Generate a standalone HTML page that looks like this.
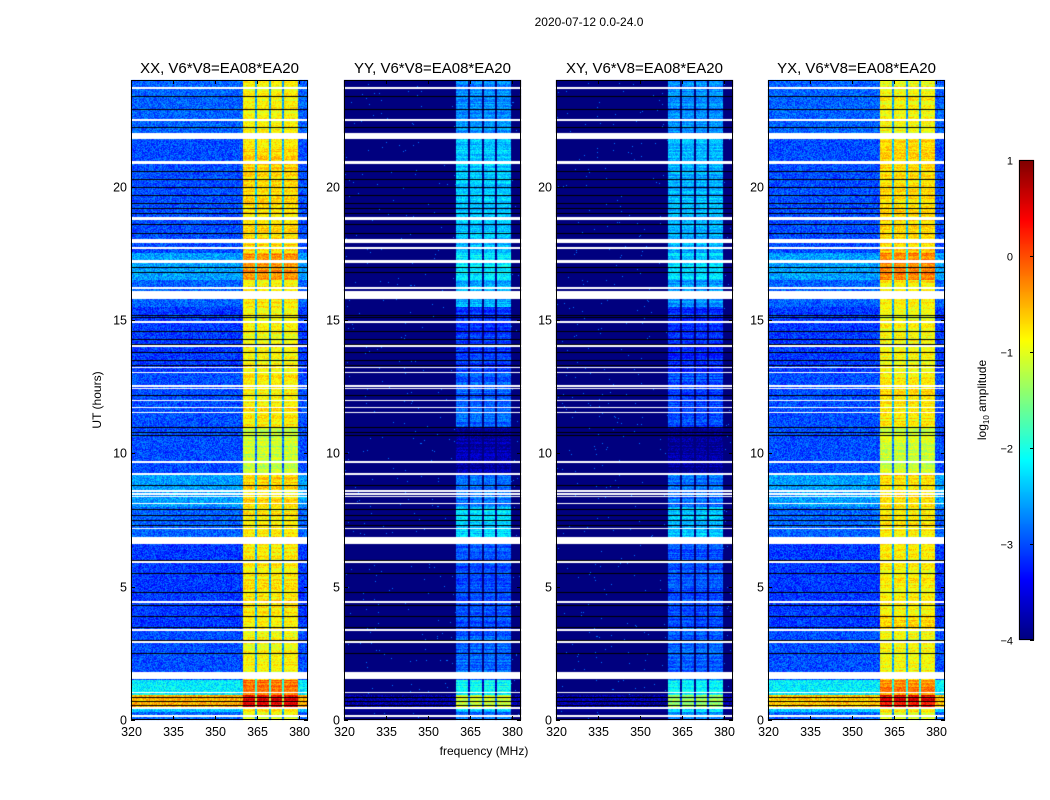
<!DOCTYPE html>
<html><head><meta charset="utf-8">
<style>
body{margin:0;background:#fff;width:1050px;height:800px;overflow:hidden;position:relative;font-family:"Liberation Sans",sans-serif}
canvas{position:absolute}
svg{position:absolute;left:0;top:0}
</style></head>
<body>
<canvas id="cv" width="1050" height="800"></canvas>
<svg id="sv" width="1050" height="800"></svg>
<script>
// ---- data ----
const panelTitles = ["XX, V6*V8=EA08*EA20","YY, V6*V8=EA08*EA20","XY, V6*V8=EA08*EA20","YX, V6*V8=EA08*EA20"];
const xTicks = [320,335,350,365,380];
const yTicks = [0,5,10,15,20];
const cbTicks = [1,0,-1,-2,-3,-4];
const segHours = [0,0.3,0.45,0.95,1.5,2.0,3.5,6.6,8.0,9.2,11.0,13.0,15.5,16.5,17.5,21.9,24];
const xxBg   = [-2.9,-2.4,-0.5,-2.2,-3.0,-3.0,-3.1,-2.9,-2.6,-3.0,-3.0,-3.1,-2.9,-2.6,-3.0,-2.9];
const xxBand = [-1.0,-0.8,0.5,-0.2,-0.9,-0.9,-0.8,-0.8,-0.7,-1.2,-0.8,-0.9,-0.8,-0.3,-0.7,-0.9];
const yyBg   = [-4,-3.9,-3.8,-4,-4,-4,-4,-4,-4,-4,-4,-4,-4,-4,-4,-4];
const yyBand = [-2.8,-2.3,-1.1,-2.1,-2.9,-2.9,-3.0,-2.3,-2.8,-3.8,-2.9,-3.1,-2.5,-2.2,-2.4,-2.7];
const xyBg   = [-4,-3.9,-3.8,-4,-4,-4,-4,-4,-4,-4,-4,-4,-4,-4,-4,-4];
const xyBand = [-2.7,-2.3,-1.3,-2.2,-2.9,-2.9,-3.0,-2.4,-2.8,-3.9,-3.0,-3.2,-2.6,-2.3,-2.5,-2.7];
const yxBg   = [-2.9,-2.4,-0.6,-2.2,-3.0,-3.0,-3.1,-2.9,-2.6,-3.0,-3.0,-3.1,-2.9,-2.6,-3.0,-2.9];
const yxBand = [-1.0,-0.8,0.4,-0.3,-0.9,-0.9,-0.8,-0.8,-0.7,-1.1,-0.8,-0.9,-0.8,-0.3,-0.7,-0.9];
const bandEdges = [360,379.5];
const notchFreqs = [364.6,369.5,374.4];
const flaggedStart = [23.65,22.45,21.8,20.85,18.75,17.9,17.65,17.15,16.15,15.8,14.88,13.98,13.2,13.0,12.5,12.4,11.95,11.7,11.5,9.62,9.18,8.55,8.45,8.35,8.1,7.15,6.6,5.88,4.4,3.33,2.88,1.55,1.0,0.42,0.12];
const flaggedEnd   = [23.75,22.55,22.0,20.95,18.85,18.05,17.72,17.25,16.22,16.1,14.95,14.05,13.25,13.05,12.55,12.45,12.0,11.75,11.55,9.7,9.25,8.62,8.5,8.4,8.15,7.2,6.85,5.95,4.47,3.4,2.95,1.8,1.05,0.48,0.2];
const blackHours = [23.4,22.9,22.25,20.6,20.3,20.0,19.7,19.4,19.2,19.0,18.6,18.25,17.0,16.8,15.2,15.1,14.6,14.3,14.1,13.8,13.5,13.3,12.2,11.0,10.8,10.7,8.8,7.9,7.7,7.5,7.3,6.0,5.5,4.8,4.3,3.9,3.5,3.0,2.5,0.85,0.7,0.55];
const panelBg = [xxBg,yyBg,xyBg,yxBg];
const panelBand = [xxBand,yyBand,xyBand,yxBand];

// ---- layout ----
const lefts=[131,344,556,768], W=177, TOP=80, H=640;
const F0=320, F1=383.2, T0=0, T1=24;
function xS(p,f){return lefts[p]+(f-F0)/(F1-F0)*W;}
function yS(h){return TOP+H-(h-T0)/(T1-T0)*H;}
const CB={x:1019,y:160,w:15,h:480,min:-4,max:1};
function cbY(v){return CB.y+(CB.max-v)/(CB.max-CB.min)*CB.h;}

function jet(v){
  const c=x=>Math.max(0,Math.min(1,x));
  const r=c(1.5-Math.abs(4*v-3)), g=c(1.5-Math.abs(4*v-2)), b=c(1.5-Math.abs(4*v-1));
  return [r*255|0,g*255|0,b*255|0];
}
function hash(a,b){let h=(a*374761393+b*668265263)|0;h=(h^(h>>>13))*1274126177|0;return ((h^(h>>>16))>>>0)/4294967296;}
function segIdx(h){for(let i=0;i<segHours.length-1;i++)if(h>=segHours[i]&&h<segHours[i+1])return i;return segHours.length-2;}

const cv=document.getElementById('cv'),ctx=cv.getContext('2d');
const img=ctx.createImageData(1050,800);
for(let p=0;p<4;p++){
  for(let py=TOP;py<TOP+H;py++){
    const h=T0+(TOP+H-py-0.5)/H*(T1-T0);
    const s=segIdx(h);
    let flagged=false;
    for(let k=0;k<flaggedStart.length;k++) if(h>=flaggedStart[k]&&h<flaggedEnd[k]) flagged=true;
    const rowJ=(hash(py,p+7)-0.5)*0.4;
    for(let px=lefts[p];px<lefts[p]+W;px++){
      const f=F0+(px+0.5-lefts[p])/W*(F1-F0);
      const o=(py*1050+px)*4;
      if(flagged){img.data[o]=img.data[o+1]=img.data[o+2]=255;img.data[o+3]=255;continue;}
      let v;
      const inBand=f>=bandEdges[0]&&f<bandEdges[1];
      if(inBand){
        v=panelBand[p][s]+rowJ+(hash(px,py)-0.5)*0.5;
        for(const n of notchFreqs) if(Math.abs(f-n)<0.4) v-=1.7;
      } else {
        const bg=panelBg[p][s];
        v=bg+(bg>-3.9?(hash(px*3,py)-0.5)*0.7:(hash(px,py)<0.005?1.2:0));
      }
      const t=Math.max(0,Math.min(1,(v-CB.min)/(CB.max-CB.min)));
      const c=jet(t);
      img.data[o]=c[0];img.data[o+1]=c[1];img.data[o+2]=c[2];img.data[o+3]=255;
    }
  }
}
for(let py=CB.y;py<CB.y+CB.h;py++){
  const v=CB.max-(py-CB.y+0.5)/CB.h*(CB.max-CB.min);
  const c=jet((v-CB.min)/(CB.max-CB.min));
  for(let px=CB.x;px<CB.x+CB.w;px++){const o=(py*1050+px)*4;img.data[o]=c[0];img.data[o+1]=c[1];img.data[o+2]=c[2];img.data[o+3]=255;}
}
ctx.putImageData(img,0,0);
ctx.fillStyle='#000';
for(let p=0;p<4;p++) for(const bh of blackHours){ctx.fillRect(lefts[p],Math.round(yS(bh)),W,1);}

// ---- svg overlay ----
const NS='http://www.w3.org/2000/svg',sv=document.getElementById('sv');
function el(tag,attrs,txt){const e=document.createElementNS(NS,tag);for(const k in attrs)e.setAttribute(k,attrs[k]);if(txt!==undefined)e.textContent=txt;sv.appendChild(e);return e;}
let e;
e=el('text',{x:589,y:26,'font-size':12,'text-anchor':'middle'},'2020-07-12 0.0-24.0');


for(let p=0;p<4;p++){
  e=el('rect',{x:lefts[p]+0.5,y:TOP+0.5,width:W-1,height:H-1,fill:'none',stroke:'#000','stroke-width':1});
  
  
  e=el('text',{x:lefts[p]+W/2,y:73,'font-size':15,'text-anchor':'middle'},panelTitles[p]);
  
  
  for(const t of xTicks){
    const x=Math.round(xS(p,t))+0.5;
    el('line',{x1:x,y1:TOP+H,x2:x,y2:TOP+H-4,stroke:'#000'});
    el('line',{x1:x,y1:TOP,x2:x,y2:TOP+4,stroke:'#000'});
    e=el('text',{x:x,y:TOP+H+16,'font-size':12.5,'text-anchor':'middle'},t);
    
    
  }
  for(const t of yTicks){
    const y=Math.round(yS(t))+0.5;
    el('line',{x1:lefts[p],y1:y,x2:lefts[p]+4,y2:y,stroke:'#000'});
    el('line',{x1:lefts[p]+W,y1:y,x2:lefts[p]+W-4,y2:y,stroke:'#000'});
    e=el('text',{x:lefts[p]-4,y:y+4,'font-size':12.5,'text-anchor':'end'},t);
    
    
  }
}
e=el('text',{x:0,y:0,'font-size':12,'text-anchor':'middle',transform:'translate(101,400) rotate(-90)'},'UT (hours)');


e=el('text',{x:484,y:755,'font-size':12,'text-anchor':'middle'},'frequency (MHz)');


e=el('rect',{x:CB.x+0.5,y:CB.y+0.5,width:CB.w-1,height:CB.h-1,fill:'none',stroke:'#000'});


for(const t of cbTicks){
  const y=Math.round(cbY(t))+0.5;
  el('line',{x1:CB.x+CB.w-4,y1:y,x2:CB.x+CB.w,y2:y,stroke:'#000'});
  e=el('text',{x:1013,y:y+4,'font-size':11,'text-anchor':'end'},t<0?'\u2212'+(-t):t);
  
  
}
e=el('text',{x:0,y:0,'font-size':12,'text-anchor':'middle',transform:'translate(986,400) rotate(-90)'});


const t1=document.createElementNS(NS,'tspan');t1.textContent='log';e.appendChild(t1);
const t2=document.createElementNS(NS,'tspan');t2.setAttribute('font-size','8');t2.setAttribute('dy','3');t2.textContent='10';e.appendChild(t2);
const t3=document.createElementNS(NS,'tspan');t3.setAttribute('dy','-3');t3.textContent=' amplitude';e.appendChild(t3);
</script>
</body></html>
